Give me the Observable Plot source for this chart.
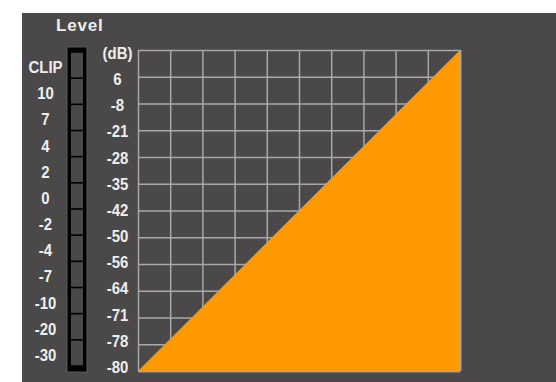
<!DOCTYPE html>
<html>
<head>
<meta charset="utf-8">
<script src="https://cdn.jsdelivr.net/npm/d3@7"></script>
<script src="https://cdn.jsdelivr.net/npm/@observablehq/plot@0.6"></script>
<style>
  html, body { margin: 0; padding: 0; background: #ffffff; }
  #wrap { position: relative; width: 556px; height: 382px; overflow: hidden; }
  #panel { position: absolute; left: 22px; top: 13px; right: 0; bottom: 0; background: #4a4848; }
  #title { position: absolute; left: 56px; top: 16px; font: bold 17px "Liberation Sans", Arial, sans-serif; letter-spacing: 0.8px; color: #eeeeee; }
  .layer { position: absolute; left: 0; top: 0; }
</style>
</head>
<body>
<div id="wrap">
  <div id="panel"></div>
  <div id="title">Level</div>
  <div id="main" class="layer"></div>
  <div id="meter" class="layer"></div>
</div>
<script>
// ---- data ----
const meterLabels = ["CLIP", "10", "7", "4", "2", "0", "-2", "-4", "-7", "-10", "-20", "-30"];
const dbLabels = ["(dB)", "6", "-8", "-21", "-28", "-35", "-42", "-50", "-56", "-64", "-71", "-78", "-80"];
const gridColumns = 10;
const gridRows = dbLabels.length - 1;
const levelStart = { x: 0, y: 0 };
const levelEnd = { x: gridColumns, y: gridRows };

// ---- styles ----
const BG = "#4a4848";
const TEXT = "#eeeeee";
const GRID = "#a9a9a9";
const ORANGE = "#ff9900";
const FONT = "'Liberation Sans', Arial, Helvetica, sans-serif";

// ---- main grid plot ----
const main = Plot.plot({
  width: 556,
  height: 382,
  marginLeft: 138,
  marginRight: 96,
  marginTop: 50,
  marginBottom: 11,
  x: { domain: [0, gridColumns], axis: null },
  y: { domain: [0, gridRows], axis: null },
  style: { background: "transparent", overflow: "visible" },
  marks: [
    Plot.ruleX(d3.range(0, gridColumns + 1), { stroke: GRID, strokeWidth: 1.5 }),
    Plot.ruleY(d3.range(0, gridRows + 1), { stroke: GRID, strokeWidth: 1.5 }),
    Plot.areaY([levelStart, levelEnd], { x: "x", y: "y", fill: ORANGE }),
    Plot.ruleX([gridColumns], { stroke: GRID, strokeWidth: 1.5 }),
    Plot.ruleY([0], { stroke: GRID, strokeWidth: 1.5 })
  ]
});
document.getElementById("main").appendChild(main);

// ---- meter + labels plot ----
const n = meterLabels.length;
const meter = Plot.plot({
  width: 139,
  height: 382,
  marginLeft: 71,
  marginRight: 56,
  marginTop: 52,
  marginBottom: 16,
  x: { domain: [0, 1], axis: null },
  y: { domain: [0, n], axis: null },
  style: { background: "transparent", overflow: "visible", fontFamily: FONT, fontSize: "17px", fontWeight: "bold", color: TEXT },
  marks: [
    Plot.rect([{ y1: 0, y2: n }], {
      x1: () => 0, x2: () => 1, y1: "y1", y2: "y2",
      fill: "#000", stroke: "#5a5858", strokeWidth: 1,
      insetLeft: -4, insetRight: -4, insetTop: -5, insetBottom: -6
    }),
    Plot.rect(meterLabels, {
      x1: () => 0, x2: () => 1,
      y1: (d, i) => n - 1 - i, y2: (d, i) => n - i,
      fill: BG, insetTop: 0.8, insetBottom: 0.8
    }),
    Plot.text(meterLabels, {
      y: (d, i) => n - i - 0.5, text: d => d,
      frameAnchor: "left", dx: -26, textAnchor: "middle", dy: 2,
      fill: TEXT, fontSize: 17, fontWeight: "bold", fontFamily: FONT
    }),
    Plot.text(dbLabels, {
      y: (d, i) => n - i, text: d => d,
      frameAnchor: "right", dx: 34, textAnchor: "middle", dy: 1,
      fill: TEXT, fontSize: 17, fontWeight: "bold", fontFamily: FONT
    })
  ]
});
// condense the label glyphs horizontally (narrow bold face look)
d3.select(meter).selectAll("text").each(function () {
  const t = this.getAttribute("transform") || "";
  this.setAttribute("transform", t + " scale(0.88,1)");
});
document.getElementById("meter").appendChild(meter);
</script>
</body>
</html>
